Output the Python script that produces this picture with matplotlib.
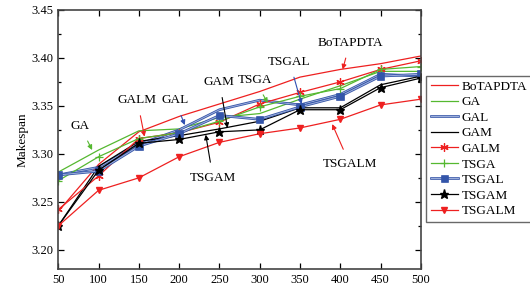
import matplotlib
matplotlib.use('Agg')
import matplotlib.pyplot as plt
import matplotlib.patheffects as pe
from matplotlib import ticker

plt.rcParams['font.family'] = 'Liberation Serif'

# tasks on the x axis
tasks = [50, 100, 150, 200, 250, 300, 350, 400, 450, 500]

# makespan of each algorithm
botapdta = [3.240, 3.289, 3.323, 3.339, 3.352, 3.365, 3.380, 3.388, 3.394, 3.402]
ga       = [3.281, 3.304, 3.324, 3.326, 3.338, 3.342, 3.357, 3.371, 3.386, 3.386]
gal      = [3.278, 3.286, 3.310, 3.325, 3.346, 3.356, 3.351, 3.362, 3.383, 3.381]
gam      = [3.225, 3.287, 3.313, 3.319, 3.326, 3.334, 3.348, 3.348, 3.372, 3.381]
galm     = [3.242, 3.277, 3.316, 3.322, 3.333, 3.352, 3.364, 3.375, 3.388, 3.397]
tsga     = [3.272, 3.297, 3.316, 3.322, 3.334, 3.349, 3.360, 3.368, 3.388, 3.391]
tsgal    = [3.278, 3.282, 3.308, 3.321, 3.340, 3.336, 3.349, 3.360, 3.381, 3.383]
tsgam    = [3.225, 3.283, 3.311, 3.315, 3.323, 3.325, 3.346, 3.346, 3.369, 3.379]
tsgalm   = [3.225, 3.262, 3.275, 3.297, 3.312, 3.321, 3.327, 3.336, 3.351, 3.357]

# callout labels: (text, text position, arrow tip, colour)
callouts = [
    ("GA",       (77, 3.329),  (92, 3.304),  '#55b830'),
    ("GALM",     (148, 3.356), (157, 3.318), '#ee2020'),
    ("GAL",      (195, 3.356), (207, 3.330), '#3050b0'),
    ("GAM",      (250, 3.375), (260, 3.327), 'black'),
    ("TSGA",     (294, 3.377), (310, 3.353), '#55b830'),
    ("TSGAL",    (337, 3.396), (352, 3.352), '#3050b0'),
    ("BoTAPDTA", (412, 3.416), (403, 3.388), '#ee2020'),
    ("TSGAM",    (242, 3.275), (233, 3.320), 'black'),
    ("TSGALM",   (412, 3.289), (390, 3.331), '#ee2020'),
]

red = '#ee2020'
green = '#55b830'
blue_fx = [pe.Stroke(linewidth=1.9, foreground='#3555a8'), pe.Normal()]

fig = plt.figure(figsize=(5.3, 2.93), dpi=100)
ax = fig.add_axes([0.110, 0.082, 0.684, 0.884])

ax.plot(tasks, botapdta, color=red, lw=0.9, label='BoTAPDTA')
ax.plot(tasks, ga, color=green, lw=0.9, label='GA')
ax.plot(tasks, gal, color='#9fb0dc', lw=0.7, path_effects=blue_fx, label='GAL')
ax.plot(tasks, gam, color='black', lw=0.9, label='GAM')
ax.plot(tasks, galm, color=red, lw=0.9, marker=(6, 2, 0), ms=6, mew=0.9, label='GALM')
ax.plot(tasks, tsga, color=green, lw=0.9, marker='+', ms=6, mew=0.9, label='TSGA')
ax.plot(tasks, tsgal, color='#9fb0dc', lw=0.7, path_effects=blue_fx, marker='s', ms=4,
        mfc='#3355aa', mec='#3355aa', label='TSGAL')
ax.plot(tasks, tsgam, color='black', lw=0.9, marker='*', ms=6.5, label='TSGAM')
ax.plot(tasks, tsgalm, color=red, lw=0.9, marker='v', ms=5, mfc=red, mec=red, label='TSGALM')

for text, xytext, xy, c in callouts:
    ax.annotate(text, xy=xy, xytext=xytext, ha='center', va='center', fontsize=9.5,
                arrowprops=dict(arrowstyle='-|>', color=c, lw=0.8, mutation_scale=7,
                                shrinkA=5, shrinkB=0))

ax.set_xlim(50, 500)
ax.set_ylim(3.18, 3.45)
ax.set_xticks(tasks)
ax.set_yticks([3.20, 3.25, 3.30, 3.35, 3.40, 3.45])
ax.yaxis.set_minor_locator(ticker.MultipleLocator(0.025))
ax.yaxis.set_major_formatter(ticker.FormatStrFormatter('%.2f'))
ax.tick_params(which='both', direction='in', top=True, right=True, labelsize=9, width=0.9)
ax.tick_params(which='major', length=4)
ax.tick_params(which='minor', length=2.5)
for s in ax.spines.values():
    s.set_color('#444444')
    s.set_linewidth(1.2)
ax.set_ylabel('Makespan', fontsize=9.5, labelpad=2)

leg = ax.legend(loc='upper left', bbox_to_anchor=(1.014, 0.745), borderaxespad=0,
                fontsize=9.5, frameon=True, fancybox=False, edgecolor='#444444',
                handlelength=2.1, handletextpad=0.25, labelspacing=0.25, borderpad=0.35)
leg.get_frame().set_linewidth(1.0)

fig.savefig('out.png', dpi=100)
